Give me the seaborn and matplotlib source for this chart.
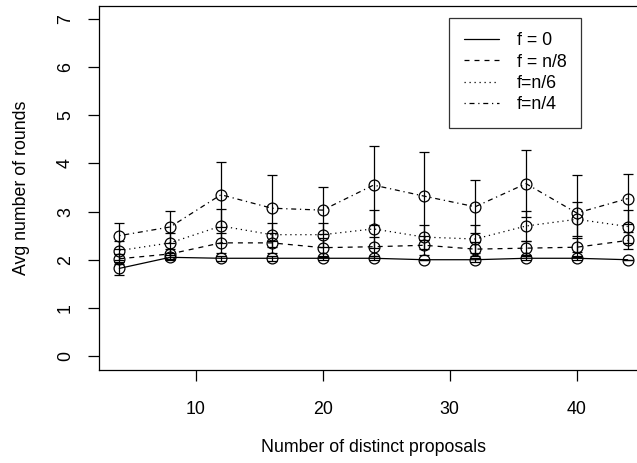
import numpy as np
import pandas as pd
import matplotlib
matplotlib.use("Agg")
import matplotlib.pyplot as plt
import seaborn as sns

# Number of distinct proposals
proposals = [4, 8, 12, 16, 20, 24, 28, 32, 36, 40, 44]

# Avg number of rounds per fault setting (mean, error half-width)
f0_mean = [1.82, 2.05, 2.03, 2.03, 2.03, 2.03, 2.00, 2.00, 2.03, 2.03, 2.00]
f0_err = [0.13, 0.05, 0.05, 0.05, 0.04, 0.04, 0.00, 0.04, 0.04, 0.04, 0.00]

f8_mean = [2.02, 2.12, 2.35, 2.35, 2.25, 2.27, 2.30, 2.22, 2.24, 2.26, 2.40]
f8_err = [0.10, 0.10, 0.20, 0.20, 0.20, 0.20, 0.20, 0.15, 0.15, 0.20, 0.18]

f6_mean = [2.19, 2.35, 2.70, 2.52, 2.52, 2.64, 2.47, 2.43, 2.70, 2.84, 2.69]
f6_err = [0.20, 0.20, 0.35, 0.25, 0.25, 0.40, 0.25, 0.30, 0.31, 0.35, 0.34]

f4_mean = [2.50, 2.68, 3.35, 3.07, 3.03, 3.55, 3.32, 3.10, 3.58, 2.97, 3.27]
f4_err = [0.27, 0.34, 0.67, 0.68, 0.49, 0.82, 0.92, 0.55, 0.70, 0.80, 0.52]

labels = ["f = 0", "f = n/8", "f=n/6", "f=n/4"]

rows = []
for lab, m, e in zip(labels, [f0_mean, f8_mean, f6_mean, f4_mean],
                     [f0_err, f8_err, f6_err, f4_err]):
    for x, mv, ev in zip(proposals, m, e):
        rows.append({"proposals": x, "rounds": mv, "err": ev, "series": lab})
df = pd.DataFrame(rows)

sns.set_style("white")
plt.rcParams["font.family"] = ["Liberation Sans", "DejaVu Sans"]
plt.rcParams["text.color"] = "black"
plt.rcParams["axes.labelcolor"] = "black"

fs = 12.8

fig = plt.figure(figsize=(6.37, 4.63), dpi=100)
# R-style plot region (right edge runs past the image)
ax = fig.add_axes([99 / 637, (463 - 369.5) / 463, 549 / 637, 364 / 463])

dashes = {"f = 0": None, "f = n/8": (4, 4), "f=n/6": (1, 3), "f=n/4": (1, 3, 4, 3)}

handles = []
for lab in labels:
    d = df[df["series"] == lab]
    ax.errorbar(d["proposals"], d["rounds"], yerr=d["err"], fmt="none",
                ecolor="black", elinewidth=0.9, capsize=3.6, capthick=0.9, zorder=2)
    kw = dict(color="black", linewidth=0.9, marker="o", markersize=7.8,
              markerfacecolor="none", markeredgecolor="black", markeredgewidth=0.9)
    if dashes[lab] is not None:
        kw["dashes"] = dashes[lab]
    sns.lineplot(data=d, x="proposals", y="rounds", ax=ax, **kw)
    h, = ax.plot([], [], color="black", linewidth=0.9,
                 **({"dashes": dashes[lab]} if dashes[lab] is not None else {}))
    handles.append(h)

ax.set_xlim(2.4, 45.6)
ax.set_ylim(-0.28, 7.28)
ax.set_xticks([10, 20, 30, 40])
ax.set_yticks(range(0, 8))
ax.tick_params(axis="both", direction="out", length=8, width=0.9, labelsize=fs,
               bottom=True, left=True, colors="black")
ax.tick_params(axis="x", pad=15)
ax.tick_params(axis="y", pad=10)
for t in ax.get_yticklabels():
    t.set_rotation(90)
    t.set_va("center")
for s in ax.spines.values():
    s.set_color("black")
    s.set_linewidth(0.9)

ax.set_xlabel("Number of distinct proposals", fontsize=fs)
ax.set_ylabel("Avg number of rounds", fontsize=fs)
ax.xaxis.set_label_coords(0.5, -0.19)
ax.yaxis.set_label_coords(-0.126, 0.5)

leg = ax.legend(handles, labels, loc="upper right", bbox_to_anchor=(0.878, 0.966),
                fontsize=fs, frameon=True, fancybox=False, handlelength=2.0,
                handletextpad=1.0, labelspacing=0.25, borderpad=0.8, borderaxespad=0)
leg.get_frame().set_edgecolor("black")
leg.get_frame().set_linewidth(0.9)

plt.savefig("out.png", dpi=100)
